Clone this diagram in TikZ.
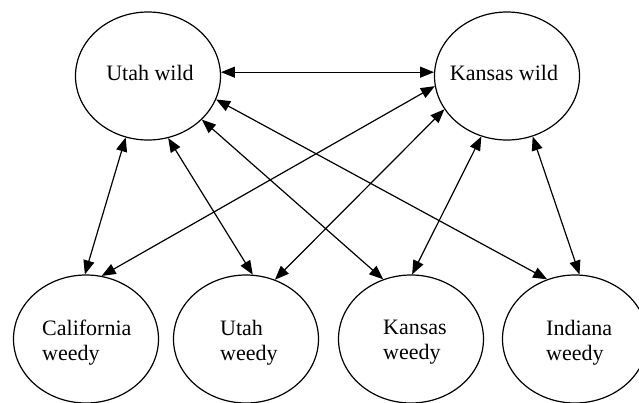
\documentclass[tikz,border=0pt]{standalone}
\usepackage{fontspec}
\setmainfont{Liberation Serif}
\usetikzlibrary{shapes.geometric, arrows.meta}

\begin{document}
\begin{tikzpicture}[x=1pt, y=-1pt,
		pop/.style={draw, ellipse, line width=1.2pt, minimum width=145pt, minimum height=128pt, inner sep=0pt},
		lbl/.style={font=\rmfamily\fontsize{22}{25}\selectfont, inner sep=0pt},
		link/.style={line width=1.2pt, {Triangle[length=14pt,width=11pt]}-{Triangle[length=14pt,width=11pt]}}]
				\useasboundingbox (0,0) rectangle (639,402);

				\node[pop] (uwild) at (148, 76) {};
				\node[pop] (kwild) at (507, 76) {};

				\node[pop] (calw) at (86, 339) {};
				\node[pop] (utw) at (246, 339) {};
				\node[pop] (kaw) at (411, 339) {};
				\node[pop] (inw) at (575, 339) {};

				\node[lbl, anchor=base] (uwildtxt) at (150, 80) {Utah wild};
				\node[lbl, anchor=base] (kwildtxt) at (504, 80) {Kansas wild};

				\node[lbl, anchor=west, align=left] (calwtxt) at (42, 342.5) {California\\weedy};
				\node[lbl, anchor=west, align=left] (utwtxt) at (220, 342.5) {Utah\\weedy};
				\node[lbl, anchor=west, align=left] (kawtxt) at (383, 342.5) {Kansas\\weedy};
				\node[lbl, anchor=west, align=left] (inwtxt) at (546, 342.5) {Indiana\\weedy};

				\draw[link] (uwild.3) -- (kwild.177);

				\draw[link] (uwild.-110) -- (calw.91);
				\draw[link] (uwild.-72) -- (utw.84);
				\draw[link] (uwild.-39) -- (kaw.115);
				\draw[link] (uwild.-19) -- (inw.115);

				\draw[link] (kwild.-172) -- (calw.76);
				\draw[link] (kwild.-152) -- (utw.64);
				\draw[link] (kwild.-113) -- (kaw.89);
				\draw[link] (kwild.-67) -- (inw.86);
			\end{tikzpicture}
\end{document}
